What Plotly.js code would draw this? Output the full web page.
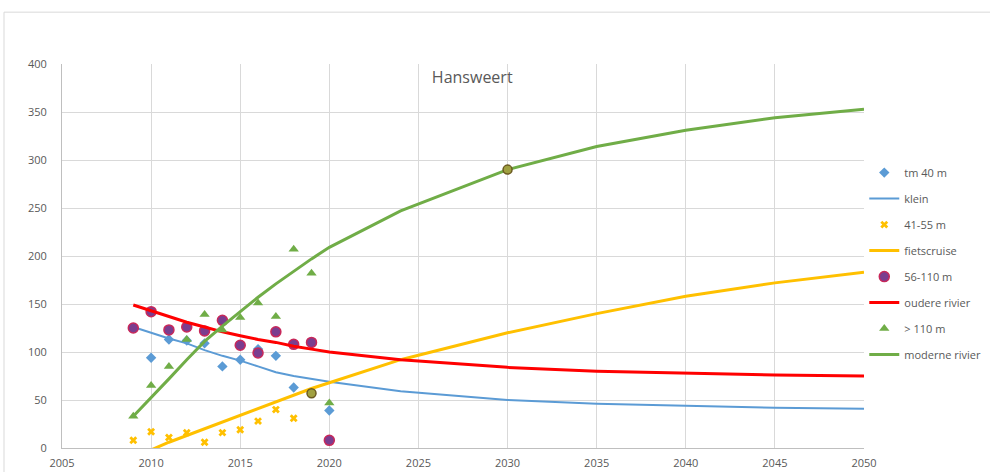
<!DOCTYPE html>
<html>
<head>
<meta charset="utf-8">
<script src="https://cdn.plot.ly/plotly-3.0.1.min.js"></script>
<style>html,body{margin:0;padding:0;background:#fff;}#chart{width:990px;height:472px;}</style>
</head>
<body>
<div id="chart"></div>
<script>
// Observed years (markers)
const obsYears = [2009, 2010, 2011, 2012, 2013, 2014, 2015, 2016, 2017, 2018, 2019, 2020];
const tm40 = [null, 94, 113, 112, 109, 85, 92, 103, 96, 63, null, 39];
const m41_55 = [8, 17, 11, 16, 6, 16, 19, 28, 40, 31, null, null];
const m56_110 = [125, 142, 123, 126, 122, 133, 107, 99, 121, 108, 110, 8];
const gt110 = [33, 65, 85, 113, 139, 123, 136, 151, 137, 207, 182, 47];

// Model curves
const lineYears = [2009, 2010, 2011, 2012, 2013, 2014, 2015, 2016, 2017, 2018, 2019, 2020, 2024, 2030, 2035, 2040, 2045, 2050];
const klein = [126, 120, 114, 109, 102, 96, 91, 85, 79, 75, 72, 69, 59, 50, 46, 44, 42, 41];
const fietscruise = [-10, -2, 6, 13, 20, 27, 34, 41, 48, 55, 62, 68, 92, 120, 140, 158, 172, 183];
const oudereRivier = [149, 143, 137, 131, 126, 121, 117, 113, 110, 106, 103, 100, 92, 84, 80, 78, 76, 75];
const moderneRivier = [33, 52, 72, 92, 111, 127, 142, 157, 171, 184, 197, 209, 247, 290, 314, 331, 344, 353];

// Extra highlighted points (olive circles)
const extraYears = [2019, 2030];
const extraVals = [57, 290];

const xTicks = [2005, 2010, 2015, 2020, 2025, 2030, 2035, 2040, 2045, 2050];
const yTicks = [0, 50, 100, 150, 200, 250, 300, 350, 400];

const traces = [
  {x: obsYears, y: tm40, name: 'tm 40 m', mode: 'markers', type: 'scatter', legendgroup: 'a',
   marker: {symbol: 'diamond', size: 8, color: '#5b9bd5'}},
  {x: lineYears, y: klein, name: 'klein', mode: 'lines', type: 'scatter', legendgroup: 'b',
   line: {color: '#5b9bd5', width: 2}},
  {x: obsYears, y: m41_55, name: '41-55 m', mode: 'markers', type: 'scatter', legendgroup: 'c',
   marker: {symbol: 'x', size: 7, color: '#ffc000'}},
  {x: lineYears, y: fietscruise, name: 'fietscruise', mode: 'lines', type: 'scatter', legendgroup: 'd',
   line: {color: '#ffc000', width: 3}},
  {x: obsYears, y: m56_110, name: '56-110 m', mode: 'markers', type: 'scatter', legendgroup: 'e',
   marker: {symbol: 'circle', size: 10, color: '#7a3d8f', line: {color: '#c8285a', width: 1.5}}},
  {x: lineYears, y: oudereRivier, name: 'oudere rivier', mode: 'lines', type: 'scatter', legendgroup: 'f',
   line: {color: '#ff0000', width: 3}},
  {x: obsYears, y: gt110, name: '> 110 m', mode: 'markers', type: 'scatter', legendgroup: 'g',
   marker: {symbol: 'triangle-up', size: 9, color: '#70ad47'}},
  {x: lineYears, y: moderneRivier, name: 'moderne rivier', mode: 'lines', type: 'scatter', legendgroup: 'h',
   line: {color: '#70ad47', width: 3}},
  {x: extraYears, y: extraVals, name: 'extra', mode: 'markers', type: 'scatter', showlegend: false,
   marker: {symbol: 'circle', size: 9, color: '#a0a040', line: {color: '#6b5a20', width: 1.5}}}
];

const layout = {
  width: 990, height: 472,
  margin: {l: 62, r: 126, t: 64, b: 24},
  paper_bgcolor: '#ffffff', plot_bgcolor: '#ffffff',
  font: {family: 'Open Sans, Lato, sans-serif', color: '#595959', size: 11},
  title: {text: 'Hansweert', x: 0.477, xanchor: 'center', y: 0.835, yanchor: 'middle',
          font: {size: 16, color: '#595959', family: 'Open Sans, sans-serif'}},
  xaxis: {range: [2005, 2050], tickvals: xTicks, ticktext: xTicks.map(String), showgrid: true,
          gridcolor: '#d9d9d9', gridwidth: 1, zeroline: false, showline: true, linecolor: '#bfbfbf',
          ticks: '', tickfont: {size: 11, color: '#595959'}, ticklabelstandoff: 5, fixedrange: true},
  yaxis: {range: [0, 400], tickvals: yTicks, ticktext: yTicks.map(String), showgrid: true,
          gridcolor: '#d9d9d9', gridwidth: 1, zeroline: false, showline: true, linecolor: '#bfbfbf',
          ticks: '', tickfont: {size: 11, color: '#595959'}, ticklabelstandoff: 12, fixedrange: true},
  showlegend: true,
  legend: {xref: 'container', yref: 'container', x: 0.873, xanchor: 'left', y: 0.665, yanchor: 'top',
           traceorder: 'grouped', tracegroupgap: 7,
           font: {size: 11, color: '#595959'}, itemwidth: 30, bgcolor: 'rgba(0,0,0,0)'},
  shapes: [
    {type: 'rect', xref: 'paper', yref: 'paper', x0: -0.0723, x1: 1.16, y0: -0.07, y1: 1.135,
     line: {color: '#d9d9d9', width: 1}, fillcolor: 'rgba(0,0,0,0)', layer: 'below'}
  ]
};

Plotly.newPlot('chart', traces, layout, {displayModeBar: false, staticPlot: true});
</script>
</body>
</html>
